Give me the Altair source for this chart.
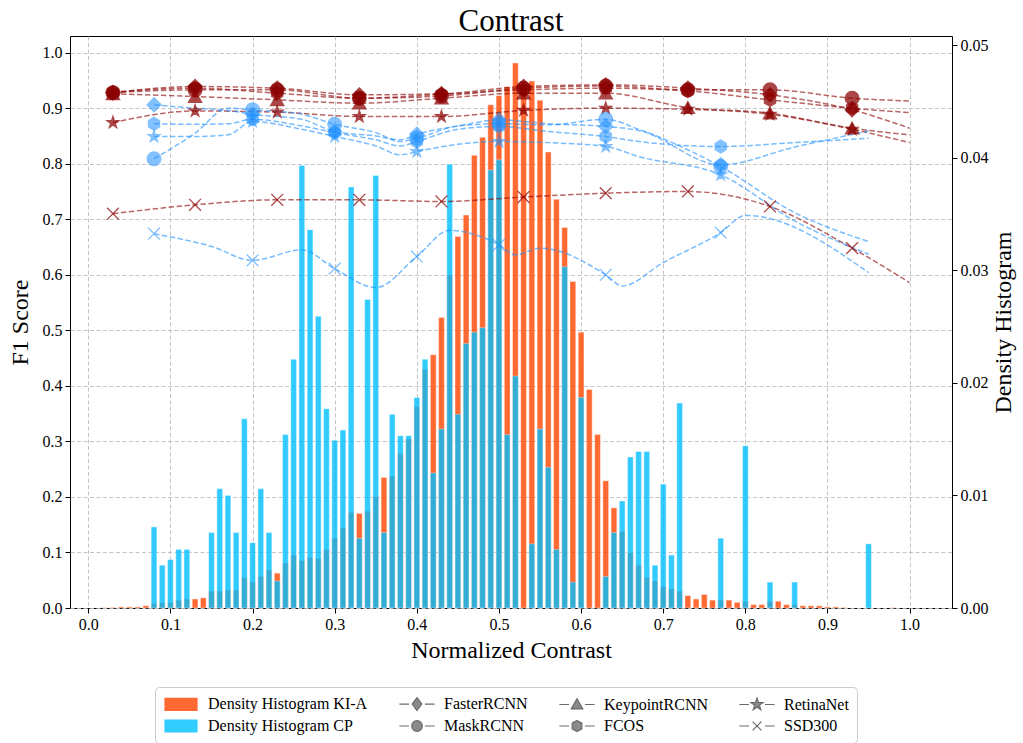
import altair as alt
import pandas as pd

# ---------------- data ----------------
BIN_CENTERS = [
    0.01, 0.02, 0.03, 0.04, 0.05, 0.06, 0.07, 0.08, 0.09, 0.10,
    0.11, 0.12, 0.13, 0.14, 0.15, 0.16, 0.17, 0.18, 0.19, 0.20,
    0.21, 0.22, 0.23, 0.24, 0.25, 0.26, 0.27, 0.28, 0.29, 0.30,
    0.31, 0.32, 0.33, 0.34, 0.35, 0.36, 0.37, 0.38, 0.39, 0.40,
    0.41, 0.42, 0.43, 0.44, 0.45, 0.46, 0.47, 0.48, 0.49, 0.50,
    0.51, 0.52, 0.53, 0.54, 0.55, 0.56, 0.57, 0.58, 0.59, 0.60,
    0.61, 0.62, 0.63, 0.64, 0.65, 0.66, 0.67, 0.68, 0.69, 0.70,
    0.71, 0.72, 0.73, 0.74, 0.75, 0.76, 0.77, 0.78, 0.79, 0.80,
    0.81, 0.82, 0.83, 0.84, 0.85, 0.86, 0.87, 0.88, 0.89, 0.90,
    0.91, 0.92, 0.93, 0.94, 0.95, 0.96, 0.97, 0.98,
]
KIA_DENSITY = [
    0.0, 0.00003, 0.00005, 0.0001, 0.0001, 0.0001, 0.0002, 0.0004, 0.0005, 0.0005,
    0.0007, 0.0008, 0.0008, 0.0009, 0.0015, 0.0015, 0.0016, 0.0016, 0.0027, 0.0023,
    0.0028, 0.0034, 0.0031, 0.0040, 0.0047, 0.0042, 0.0045, 0.0044, 0.0052, 0.0062,
    0.0071, 0.0085, 0.0084, 0.0086, 0.0099, 0.0116, 0.0117, 0.0137, 0.0150, 0.0179,
    0.0212, 0.0225, 0.0258, 0.0296, 0.0330, 0.0349, 0.0402, 0.0418, 0.0447, 0.0455,
    0.0463, 0.0484, 0.0462, 0.0468, 0.0451, 0.0405, 0.0363, 0.0338, 0.0290, 0.0245,
    0.0194, 0.0154, 0.0113, 0.0089, 0.0068, 0.0049, 0.0038, 0.0027, 0.0024, 0.0019,
    0.0017, 0.0015, 0.0011, 0.0008, 0.0012, 0.0007, 0.0007, 0.0007, 0.0005, 0.0006,
    0.0003, 0.0003, 0.0006, 0.0006, 0.0003, 0.0003, 0.0002, 0.0002, 0.0002, 0.0001,
    0.0001, 0.00005, 0.0, 0.0, 0.0, 0.0, 0.0, 0.00003,
]
CP_DENSITY = [
    0.0, 0.0, 0.0, 0.0, 0.0, 0.0, 0.0, 0.0072, 0.0038, 0.0043,
    0.0052, 0.0052, 0.0, 0.0, 0.0067, 0.0106, 0.0100, 0.0067, 0.0168, 0.0058,
    0.0106, 0.0067, 0.0024, 0.0154, 0.0221, 0.0393, 0.0336, 0.0259, 0.0177, 0.0149,
    0.0158, 0.0374, 0.0062, 0.0274, 0.0384, 0.0067, 0.0172, 0.0153, 0.0153, 0.0187,
    0.0221, 0.0120, 0.0159, 0.0394, 0.0172, 0.0235, 0.0245, 0.0249, 0.0389, 0.0398,
    0.0154, 0.0206, 0.0, 0.0057, 0.0159, 0.0125, 0.0052, 0.0303, 0.0023, 0.0187,
    0.0, 0.0, 0.0028, 0.0067, 0.0095, 0.0134, 0.0139, 0.0139, 0.0038, 0.0110,
    0.0047, 0.0182, 0.0, 0.0, 0.0, 0.0, 0.0062, 0.0, 0.0, 0.0144,
    0.0, 0.0, 0.0023, 0.0, 0.0, 0.0023, 0.0, 0.0, 0.0, 0.0,
    0.0, 0.0, 0.0, 0.0, 0.0057, 0.0, 0.0, 0.0,
]

MODELS = ["FasterRCNN", "MaskRCNN", "KeypointRCNN", "FCOS", "RetinaNet", "SSD300"]
DATASETS = ["KI-A", "CP"]

# KI-A F1 curves (markers at all but the last x)
KIA_X = [0.03, 0.13, 0.23, 0.33, 0.43, 0.53, 0.63, 0.73, 0.83, 0.93, 1.00]
KIA_MARK_X = [0.03, 0.13, 0.23, 0.33, 0.43, 0.53, 0.63, 0.73, 0.83, 0.93]
KIA_FASTER = [0.928, 0.939, 0.936, 0.924, 0.926, 0.939, 0.942, 0.936, 0.924, 0.897, 0.864]
KIA_MASK = [0.928, 0.933, 0.933, 0.918, 0.922, 0.936, 0.940, 0.933, 0.933, 0.918, 0.913]
KIA_KEYPOINT = [0.926, 0.921, 0.915, 0.909, 0.918, 0.927, 0.927, 0.901, 0.891, 0.864, 0.852]
KIA_FCOS = [0.929, 0.936, 0.927, 0.918, 0.925, 0.933, 0.936, 0.931, 0.915, 0.900, 0.892]
KIA_RETINA = [0.874, 0.895, 0.893, 0.885, 0.885, 0.896, 0.900, 0.898, 0.889, 0.862, 0.838]
KIA_SSD = [0.710, 0.726, 0.735, 0.735, 0.732, 0.740, 0.747, 0.750, 0.723, 0.648, 0.586]

# CP F1 curves
CP_X = [0.08, 0.13, 0.17, 0.20, 0.26, 0.30, 0.35, 0.38, 0.40, 0.45, 0.50, 0.56, 0.63, 0.67, 0.77, 0.86, 0.95]
CP_MARK_X = [0.08, 0.20, 0.30, 0.40, 0.50, 0.63, 0.77]
CP_FASTER = [0.906, 0.900, 0.896, 0.889, 0.880, 0.858, 0.850, 0.843, 0.853, 0.868, 0.879, 0.872, 0.867, 0.860, 0.798, 0.830, 0.859]
CP_MASK = [0.809, 0.855, 0.900, 0.897, 0.889, 0.871, 0.856, 0.840, 0.846, 0.868, 0.872, 0.870, 0.880, 0.862, 0.795, 0.712, 0.660]
CP_FCOS = [0.872, 0.871, 0.872, 0.880, 0.868, 0.856, 0.843, 0.832, 0.840, 0.862, 0.867, 0.858, 0.849, 0.840, 0.831, 0.838, 0.846]
CP_RETINA = [0.849, 0.849, 0.852, 0.876, 0.862, 0.849, 0.832, 0.816, 0.822, 0.835, 0.840, 0.838, 0.831, 0.813, 0.780, 0.697, 0.637]
CP_SSD_X = [0.08, 0.15, 0.20, 0.26, 0.30, 0.35, 0.40, 0.44, 0.50, 0.52, 0.55, 0.63, 0.65, 0.70, 0.77, 0.80, 0.95]
CP_SSD = [0.674, 0.651, 0.626, 0.645, 0.611, 0.577, 0.633, 0.680, 0.654, 0.636, 0.648, 0.600, 0.580, 0.622, 0.676, 0.707, 0.604]

X_TICKS = [0.0, 0.1, 0.2, 0.3, 0.4, 0.5, 0.6, 0.7, 0.8, 0.9, 1.0]
F1_TICKS = [0.0, 0.1, 0.2, 0.3, 0.4, 0.5, 0.6, 0.7, 0.8, 0.9, 1.0]
DENSITY_TICKS = [0.00, 0.01, 0.02, 0.03, 0.04, 0.05]

LEGEND_ENTRIES = ["Density Histogram KI-A", "Density Histogram CP", "FasterRCNN", "MaskRCNN",
                  "KeypointRCNN", "FCOS", "RetinaNet", "SSD300"]

# ---------------- tables ----------------
hist = pd.DataFrame({"center": BIN_CENTERS, "kia": KIA_DENSITY, "cp": CP_DENSITY})

rows = []
kia_series = [KIA_FASTER, KIA_MASK, KIA_KEYPOINT, KIA_FCOS, KIA_RETINA, KIA_SSD]
for model, ys in zip(MODELS, kia_series):
    for x, y in zip(KIA_X, ys):
        rows.append({"dataset": "KI-A", "model": model, "x": x, "y": y, "marker": x in KIA_MARK_X})
cp_series = [("FasterRCNN", CP_X, CP_FASTER), ("MaskRCNN", CP_X, CP_MASK),
             ("FCOS", CP_X, CP_FCOS), ("RetinaNet", CP_X, CP_RETINA), ("SSD300", CP_SSD_X, CP_SSD)]
for model, xs, ys in cp_series:
    for x, y in zip(xs, ys):
        rows.append({"dataset": "CP", "model": model, "x": x, "y": y, "marker": x in CP_MARK_X})
curves = pd.DataFrame(rows)
markers = curves[curves["marker"]].copy()

legend_df = pd.DataFrame({"entry": LEGEND_ENTRIES, "x": [0.5] * 8, "y": [0.5] * 8})

# ---------------- style ----------------
FONT = "Liberation Serif"
HEX = "M0,-1L0.866,-0.5L0.866,0.5L0,1L-0.866,0.5L-0.866,-0.5Z"
STAR = ("M0,-1L0.2245,-0.309L0.951,-0.309L0.363,0.118L0.588,0.809L0,0.382"
        "L-0.588,0.809L-0.363,0.118L-0.951,-0.309L-0.2245,-0.309Z")
XMARK = "M-1,-1L1,1M-1,1L1,-1"
MODEL_SHAPES = ["diamond", "circle", "triangle-up", HEX, STAR, XMARK]
MODEL_SIZES = [200, 140, 150, 150, 190, 110]

# legend symbols: unit = 8 px (symbolSize 256)
DASH = "M-2.2,0H-1.0M1.0,0H2.2"
LEG_SWATCH = "M-2,-0.75H2V0.75H-2Z"
LEG_DIAMOND = DASH + "M0,-0.8L0.6,0L0,0.8L-0.6,0Z"
LEG_CIRCLE = DASH + "M0.66,0A0.66,0.66 0 1,1 -0.66,0A0.66,0.66 0 1,1 0.66,0Z"
LEG_TRI = DASH + "M0,-0.72L0.72,0.55L-0.72,0.55Z"
LEG_HEX = DASH + "M0,-0.7L0.606,-0.35L0.606,0.35L0,0.7L-0.606,0.35L-0.606,-0.35Z"
LEG_STAR = DASH + ("M0,-0.8L0.18,-0.247L0.761,-0.247L0.29,0.094L0.47,0.647L0,0.306"
                   "L-0.47,0.647L-0.29,0.094L-0.761,-0.247L-0.18,-0.247Z")
LEG_X = DASH + "M-0.55,-0.55L0.55,0.55M-0.55,0.55L0.55,-0.55"
LEG_SHAPES = [LEG_SWATCH, LEG_SWATCH, LEG_DIAMOND, LEG_CIRCLE, LEG_TRI, LEG_HEX, LEG_STAR, LEG_X]
GREY_F, GREY_S = "#8a8a8a", "#6a6a6a"
LEG_FILLS = ["#ff6a33", "#33ccff", GREY_F, GREY_F, GREY_F, GREY_F, GREY_F, GREY_F]
LEG_STROKES = ["#ff6a33", "#33ccff", GREY_S, GREY_S, GREY_S, GREY_S, GREY_S, GREY_S]

W, H = 882, 572
x_scale = alt.Scale(domain=[-0.0223, 1.0516], nice=False, zero=False)
x_axis = alt.Axis(values=X_TICKS, format=".1f", title="Normalized Contrast", grid=True, titlePadding=6)
f1_scale = alt.Scale(domain=[0, 1.030], nice=False)
f1_axis = alt.Axis(values=F1_TICKS, format=".1f", title="F1 Score", grid=True, orient="left", titlePadding=10)
d_scale = alt.Scale(domain=[0, 0.0508], nice=False)
d_axis = alt.Axis(values=DENSITY_TICKS, format=".2f", title="Density Histogram", grid=False,
                  orient="right", titleAngle=270, titleBaseline="top", titlePadding=3)

BAR_HALF = 0.0035

orange = alt.Chart(hist).transform_filter("datum.kia > 0").transform_calculate(
    x0=f"datum.center - {BAR_HALF}", x1=f"datum.center + {BAR_HALF}"
).mark_bar(color="orangered", opacity=0.8, stroke="white", strokeWidth=0.4).encode(
    x=alt.X("x0:Q", scale=x_scale, axis=x_axis, title="Normalized Contrast"),
    x2="x1:Q",
    y=alt.Y("kia:Q", scale=d_scale, axis=d_axis, title="Density Histogram"),
    y2=alt.datum(0),
)
blue = alt.Chart(hist).transform_filter("datum.cp > 0").transform_calculate(
    x0=f"datum.center - {BAR_HALF}", x1=f"datum.center + {BAR_HALF}"
).mark_bar(color="deepskyblue", opacity=0.8, stroke="white", strokeWidth=0.4).encode(
    x=alt.X("x0:Q", scale=x_scale, axis=x_axis, title="Normalized Contrast"),
    x2="x1:Q",
    y=alt.Y("cp:Q", scale=d_scale, axis=d_axis, title="Density Histogram"),
    y2=alt.datum(0),
)
bars = alt.layer(orange, blue)

ds_colors = alt.Scale(domain=DATASETS, range=["darkred", "dodgerblue"])

lines = alt.Chart(curves).mark_line(
    strokeDash=[5.5, 2.5], strokeWidth=1.5, opacity=0.6, interpolate="monotone"
).encode(
    x=alt.X("x:Q", scale=x_scale, axis=x_axis, title="Normalized Contrast"),
    y=alt.Y("y:Q", scale=f1_scale, axis=f1_axis, title="F1 Score"),
    color=alt.Color("dataset:N", scale=ds_colors, legend=None),
    detail="model:N",
    order="x:Q",
)

points = alt.Chart(markers).mark_point(filled=True, strokeWidth=1.3).encode(
    x=alt.X("x:Q", scale=x_scale, axis=x_axis, title="Normalized Contrast"),
    y=alt.Y("y:Q", scale=f1_scale, axis=f1_axis, title="F1 Score"),
    fill=alt.Fill("dataset:N", scale=ds_colors, legend=None),
    stroke=alt.Stroke("dataset:N", scale=ds_colors, legend=None),
    opacity=alt.Opacity("dataset:N", scale=alt.Scale(domain=DATASETS, range=[0.72, 0.55]), legend=None),
    shape=alt.Shape("model:N", scale=alt.Scale(domain=MODELS, range=MODEL_SHAPES), legend=None),
    size=alt.Size("model:N", scale=alt.Scale(domain=MODELS, range=MODEL_SIZES), legend=None),
)

leg = alt.Legend(
    title=None, orient="none", legendX=85, legendY=651, columns=4, direction="vertical",
    symbolSize=256, symbolOpacity=1, symbolStrokeWidth=1.2, symbolOffset=9,
    labelFont=FONT, labelFontSize=16, labelColor="black", labelLimit=400,
    labelOffset=18, columnPadding=29, rowPadding=4,
    strokeColor="#cccccc", fillColor="white", padding=8, cornerRadius=4,
)
dummy = alt.Chart(legend_df).mark_point(filled=True, opacity=0, strokeWidth=1.2).encode(
    x=alt.X("x:Q", scale=x_scale, axis=x_axis, title="Normalized Contrast"),
    y=alt.Y("y:Q", scale=f1_scale, axis=f1_axis, title="F1 Score"),
    fill=alt.Fill("entry:N", scale=alt.Scale(domain=LEGEND_ENTRIES, range=LEG_FILLS), legend=leg),
    stroke=alt.Stroke("entry:N", scale=alt.Scale(domain=LEGEND_ENTRIES, range=LEG_STROKES), legend=leg),
    shape=alt.Shape("entry:N", scale=alt.Scale(domain=LEGEND_ENTRIES, range=LEG_SHAPES), legend=leg),
)

curves_layer = alt.layer(lines, points, dummy).resolve_scale(
    fill="independent", stroke="independent", shape="independent", color="independent",
    opacity="independent"
)

chart = alt.layer(bars, curves_layer).resolve_scale(y="independent").properties(
    width=W, height=H,
    title=alt.TitleParams("Contrast", font=FONT, fontSize=31, fontWeight="normal",
                          anchor="middle", baseline="bottom", frame="group", offset=-32.5, color="black"),
    padding={"left": 70, "top": 36, "right": 1023 - 70 - W, "bottom": 743 - 36 - H},
    autosize=alt.AutoSizeParams(type="none"),
).configure(font=FONT).configure_view(
    stroke="black", strokeWidth=1
).configure_axis(
    domain=False, tickColor="black", tickSize=5, tickWidth=1,
    labelFont=FONT, labelFontSize=16, labelColor="black", labelPadding=3,
    titleFont=FONT, titleFontSize=24, titleFontWeight="normal", titleColor="black",
    gridColor="#bdbdbd", gridDash=[4, 2.5], gridWidth=0.9,
)

chart.save("out.html", embed_options={"renderer": "svg", "actions": False})
